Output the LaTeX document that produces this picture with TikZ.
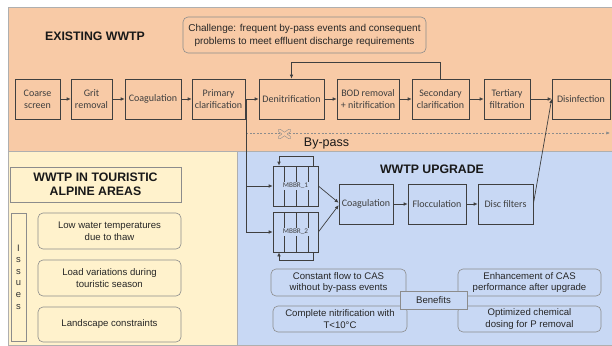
\documentclass[tikz,border=0pt]{standalone}
\usepackage{fontspec}
\setmainfont{Liberation Sans}
\newfontfamily\procfont{Carlito}
\usetikzlibrary{arrows.meta,calc}
\definecolor{exist}{HTML}{F8CAA6}
\definecolor{alpine}{HTML}{FFF2CC}
\definecolor{upgr}{HTML}{C8D8F4}
\definecolor{edge}{HTML}{3F3F3F}
\definecolor{soft}{HTML}{8C8C8C}
\newcommand\tagbox[1]{{\setlength\fboxsep{1.2pt}\colorbox{upgr}{#1}}}

\begin{document}
\begin{tikzpicture}[x=1pt,y=-1pt,
  region/.style={draw=soft!70, line width=0.6pt},
  proc/.style={draw=edge, line width=0.7pt, fill=#1, inner sep=1pt, align=center,
    font=\procfont\fontsize{10}{12}\selectfont, text=edge, minimum height=40pt},
  proc/.default=exist,
  note/.style={draw=soft, line width=0.6pt, fill=#1, rounded corners=5pt, align=center,
    inner sep=1pt, font=\fontsize{9.6}{11.8}\selectfont, text=black!85},
  title/.style={font=\bfseries\fontsize{12.3}{14.5}\selectfont, text=black!90, align=center},
  mbbr/.style={draw=edge, line width=0.7pt, fill=upgr, minimum width=45pt, minimum height=40pt,
    inner sep=0pt, font=\procfont\fontsize{7.2}{8}\selectfont, text=edge,
    path picture={\foreach \dx in {11,23,35}{\draw[edge, line width=0.6pt]
      ([xshift=\dx pt]path picture bounding box.south west) --
      ([xshift=\dx pt]path picture bounding box.north west);}}},
  arr/.style={-{Latex[length=4pt,width=3.6pt]}, draw=edge, line width=0.7pt},
  wire/.style={draw=edge, line width=0.7pt},
  bypassline/.style={draw=soft, line width=0.6pt, dash pattern=on 2pt off 1.6pt,
    -{Latex[length=3.6pt,width=3.2pt]}}
]
\useasboundingbox (0,0) rectangle (612,345);

% background areas
\fill[white] (0,0) rectangle (612,345);
\draw[region, fill=exist] (8,7) rectangle (612,151);
\draw[region, fill=alpine] (8,151) rectangle (237,345);
\draw[region, fill=upgr] (237,151) rectangle (612,345);

% existing plant
\node[title] (tex) at (95,36) {EXISTING WWTP};
\node[note=exist, minimum width=243pt, minimum height=36pt, font=\fontsize{10}{13}\selectfont]
  (chal) at (304.5,35) {Challenge: frequent by-pass events and consequent\\problems to meet effluent discharge requirements};

\node[proc, minimum width=45pt] (cs)  at (37.5,99)  {Coarse\\screen};
\node[proc, minimum width=41pt] (gr)  at (91.5,99)  {Grit\\removal};
\node[proc, minimum width=56pt] (co)  at (153,99)   {Coagulation};
\node[proc, minimum width=53pt] (pc)  at (218.5,99) {Primary\\clarification};
\node[proc, minimum width=65pt] (dn)  at (291.5,99) {Denitrification};
\node[proc, minimum width=62pt] (bod) at (368,99)   {BOD removal\\+ nitrification};
\node[proc, minimum width=57pt] (sc)  at (440.5,99) {Secondary\\clarification};
\node[proc, minimum width=46pt] (tf)  at (507,99)   {Tertiary\\filtration};
\node[proc, minimum width=58pt] (di)  at (581,99)   {Disinfection};

\draw[arr] (cs) -- (gr);
\draw[arr] (gr) -- (co);
\draw[arr] (co) -- (pc);
\draw[arr] (pc) -- (dn);
\draw[arr] (dn) -- (bod);
\draw[arr] (bod) -- (sc);
\draw[arr] (sc) -- (tf);
\draw[arr] (tf) -- (di);
\draw[arr] (sc.north) -- ++(0,-16) -| (dn.north);

% by-pass
\coordinate (tap) at ($(pc.east)+(1,0)$);
\coordinate (bpstart) at (246,133);
\coordinate (bpend) at (610,133);
\draw[bypassline] (bpstart) -- (bpend);
\draw[soft, line width=0.55pt, double=exist, double distance=2.2pt, line cap=round]
  (279.5,130.5) -- (289.5,137.5) (279.5,137.5) -- (289.5,130.5);
\node[font=\fontsize{12.5}{14}\selectfont, text=black!90] (bp) at (326.5,143) {By-pass};

% upgrade
\node[title] (tup) at (432,169) {WWTP UPGRADE};
\node[mbbr] (m1) at (295.5,186) {\tagbox{MBBR\_1}};
\node[mbbr] (m2) at (295.5,232) {\tagbox{MBBR\_2}};
\node[proc=upgr, minimum width=54pt] (cu) at (366,204)   {Coagulation};
\node[proc=upgr, minimum width=58pt] (fl) at (437,204)   {Flocculation};
\node[proc=upgr, minimum width=55pt] (df) at (505.5,204) {Disc filters};

\draw[wire] (tap) -- (tap |- m2.west);
\draw[arr] (tap |- m1.west) -- (m1.west);
\draw[arr] (tap |- m2.west) -- (m2.west);
\draw[arr] ([xshift=17.5pt]m1.north) -- ++(0,-9) -| ([xshift=-16.5pt]m1.north);
\draw[arr] ([xshift=17.5pt]m2.south) -- ++(0,8) -| ([xshift=-16.5pt]m2.south);
\draw[arr] (m1.east) -- ([yshift=1.2pt]cu.west);
\draw[arr] (m2.east) -- ([yshift=-1.2pt]cu.west);
\draw[arr] (cu) -- (fl);
\draw[arr] (fl) -- (df);
\draw[arr] (df.east) -- (di.west);

% touristic alpine areas
\node[draw=soft, line width=0.6pt, fill=alpine, minimum width=171pt, minimum height=35pt,
  inner sep=1pt, title] (tal) at (95.5,184.5) {WWTP IN TOURISTIC\\ALPINE AREAS};
\node[draw=soft, line width=0.6pt, fill=alpine, minimum width=15pt, minimum height=128pt,
  inner sep=0pt, align=center, font=\fontsize{9.4}{11.6}\selectfont, text=black!80]
  (iss) at (18.5,277) {I\\s\\s\\u\\e\\s};
\node[note=alpine, minimum width=143pt, minimum height=36pt] (i1) at (109.5,231)
  {Low water temperatures\\due to thaw};
\node[note=alpine, minimum width=143pt, minimum height=36pt] (i2) at (109.5,278)
  {Load variations during\\touristic season};
\node[note=alpine, minimum width=143pt, minimum height=35pt] (i3) at (109.5,324.5)
  {Landscape constraints};

% benefits
\node[note=upgr, minimum width=135pt, minimum height=27pt] (b1) at (338.5,282.5)
  {Constant flow to CAS\\without by-pass events};
\node[note=upgr, minimum width=134pt, minimum height=26pt] (b2) at (340,319)
  {Complete nitrification with\\T<10°C};
\node[note=upgr, minimum width=143pt, minimum height=27pt] (b3) at (529.5,282.5)
  {Enhancement of CAS\\performance after upgrade};
\node[note=upgr, minimum width=143pt, minimum height=26pt] (b4) at (529.5,319)
  {Optimized chemical\\dosing for P removal};
\node[draw=soft, line width=0.6pt, fill=upgr, minimum width=67pt, minimum height=18pt,
  inner sep=0pt, font=\fontsize{9.6}{11}\selectfont, text=black!85] (bn) at (433.5,300) {Benefits};
\end{tikzpicture}
\end{document}
